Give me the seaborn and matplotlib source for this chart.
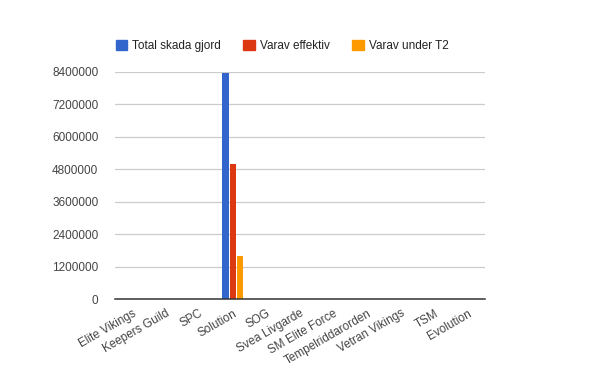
import matplotlib
matplotlib.use("Agg")
import matplotlib.pyplot as plt
import pandas as pd
import seaborn as sns
from matplotlib.patches import Patch

# === DATA === #
teams = ["Elite Vikings", "Keepers Guild", "SPC", "Solution", "SOG", "Svea Livgarde",
         "SM Elite Force", "Tempelriddarorden", "Vetran Vikings", "TSM", "Evolution"]
series = ["Total skada gjord", "Varav effektiv", "Varav under T2"]
total_damage = [0, 0, 0, 8350000, 0, 0, 0, 0, 0, 0, 0]
effective = [0, 0, 0, 4990000, 0, 0, 0, 0, 0, 0, 0]
under_t2 = [0, 0, 0, 1590000, 0, 0, 0, 0, 0, 0, 0]
y_ticks = [0, 1200000, 2400000, 3600000, 4800000, 6000000, 7200000, 8400000]
colors = ["#3366cc", "#dc3912", "#ff9900"]

# === SETUP === #
sns.set_theme(style="white")
plt.rcParams["font.family"] = ["Liberation Sans", "DejaVu Sans"]

df = pd.DataFrame({
    "team": teams * 3,
    "series": [series[0]] * len(teams) + [series[1]] * len(teams) + [series[2]] * len(teams),
    "value": total_damage + effective + under_t2,
})

fig = plt.figure(figsize=(6, 3.71), dpi=100)
ax = fig.add_axes([0.1917, 0.194, 0.6166, 0.6127])

sns.barplot(data=df, x="team", y="value", hue="series", palette=colors,
            width=0.64, gap=0.1, saturation=1, ax=ax, legend=False)
for bar in ax.patches:
    bar.set_linewidth(0)

ax.set_ylim(0, 8400000)
ax.set_xlim(-0.5, len(teams) - 0.5)
ax.set_yticks(y_ticks)
ax.set_yticklabels([str(v) for v in y_ticks])
ax.yaxis.grid(True, color="#cccccc", linewidth=0.9)
ax.set_axisbelow(True)
ax.set_xlabel("")
ax.set_ylabel("")
for s in ["left", "right", "top"]:
    ax.spines[s].set_visible(False)
ax.spines["bottom"].set_color("#333333")
ax.spines["bottom"].set_linewidth(1.1)
ax.tick_params(axis="both", length=0, labelsize=8.5, labelcolor="#444444")
ax.tick_params(axis="y", pad=12)
ax.tick_params(axis="x", pad=6)
plt.setp(ax.get_xticklabels(), rotation=30, ha="right", rotation_mode="anchor")

# legend in one row above the plot
handles = [Patch(color=c, label=l) for c, l in zip(colors, series)]
fig.legend(handles=handles, loc="center left", bbox_to_anchor=(0.175, 0.876),
           ncol=3, frameon=False, fontsize=8.5, handlelength=1.0, handleheight=1.0,
           handletextpad=0.4, columnspacing=1.9, labelcolor="#222222")

fig.savefig("out.png", dpi=100)
